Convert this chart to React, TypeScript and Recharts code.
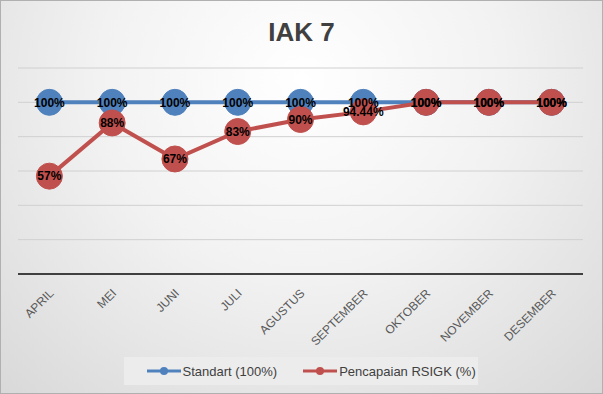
import React from 'react';
import { LineChart, Line, XAxis, YAxis, CartesianGrid, Legend, LabelList } from 'recharts';

const months = ['APRIL', 'MEI', 'JUNI', 'JULI', 'AGUSTUS', 'SEPTEMBER', 'OKTOBER', 'NOVEMBER', 'DESEMBER'];
const standart = [100, 100, 100, 100, 100, 100, 100, 100, 100];
const pencapaian = [57, 88, 67, 83, 90, 94.44, 100, 100, 100];
const yTicks = [0, 20, 40, 60, 80, 100, 120];

const data = months.map((m, i) => ({ month: m, standart: standart[i], pencapaian: pencapaian[i] }));

const FONT = '"Liberation Sans", "DejaVu Sans", sans-serif';
const BLUE = '#4F81BD';
const RED = '#C0504D';

const Tick = (props: any) => {
  const { x, y, payload } = props;
  return (
    <text x={x + 5} y={y + 12} textAnchor="end" transform={`rotate(-45 ${x + 5} ${y + 12})`}
      fontFamily={FONT} fontSize={12} fill="#595959">{payload.value}</text>
  );
};

const fmt = (v: any) => `${v}%`;

const LegendContent = () => (
  <div style={{ display: 'flex', justifyContent: 'center' }}>
    <div style={{ background: '#ececec', width: 354, height: 28, display: 'flex', alignItems: 'center', fontFamily: FONT, fontSize: 13, color: '#404040' }}>
      <svg width={34} height={10} style={{ marginLeft: 23 }}>
        <line x1={0} y1={5} x2={34} y2={5} stroke={BLUE} strokeWidth={3} />
        <circle cx={17} cy={5} r={4} fill={BLUE} />
      </svg>
      <span style={{ marginLeft: 2 }}>Standart (100%)</span>
      <svg width={34} height={10} style={{ marginLeft: 26 }}>
        <line x1={0} y1={5} x2={34} y2={5} stroke={RED} strokeWidth={3} />
        <circle cx={17} cy={5} r={4} fill={RED} />
      </svg>
      <span style={{ marginLeft: 2 }}>Pencapaian RSIGK (%)</span>
    </div>
  </div>
);

export default function App() {
  return (
    <div style={{ position: 'absolute', left: 0, top: 0, width: 603, height: 394, boxSizing: 'border-box', border: '1px solid #b0b0b0',
      background: 'radial-gradient(ellipse 75% 110% at 50% 20%, #ffffff 0%, #f2f2f2 45%, #d8d8d8 100%)' }}>
      <div style={{ position: 'absolute', left: 0, top: 16, width: 601, textAlign: 'center', fontFamily: FONT, fontWeight: 'bold', fontSize: 26, color: '#404040' }}>IAK 7</div>
      <div style={{ position: 'absolute', left: -1, top: -1 }}>
        <LineChart width={603} height={394} data={data} margin={{ top: 68, right: 20, left: 18, bottom: 9 }}>
          <CartesianGrid vertical={false} stroke="#d0d0d0" />
          <XAxis dataKey="month" scale="band" interval={0} tick={<Tick />} tickLine={false} axisLine={{ stroke: '#404040', strokeWidth: 2 }} height={83} />
          <YAxis hide domain={[0, 120]} ticks={yTicks} />
          <Legend verticalAlign="bottom" content={<LegendContent />} />
          <Line dataKey="standart" stroke={BLUE} strokeWidth={4} dot={{ r: 13, fill: BLUE, stroke: BLUE, strokeWidth: 1 }} activeDot={false} isAnimationActive={false}>
            <LabelList dataKey="standart" position="center" formatter={fmt} fontFamily={FONT} fontWeight="bold" fontSize={12} fill="#000" />
          </Line>
          <Line dataKey="pencapaian" stroke={RED} strokeWidth={4} dot={{ r: 13, fill: RED, stroke: RED, strokeWidth: 1 }} activeDot={false} isAnimationActive={false}>
            <LabelList dataKey="pencapaian" position="center" formatter={fmt} fontFamily={FONT} fontWeight="bold" fontSize={12} fill="#000" />
          </Line>
        </LineChart>
      </div>
    </div>
  );
}
